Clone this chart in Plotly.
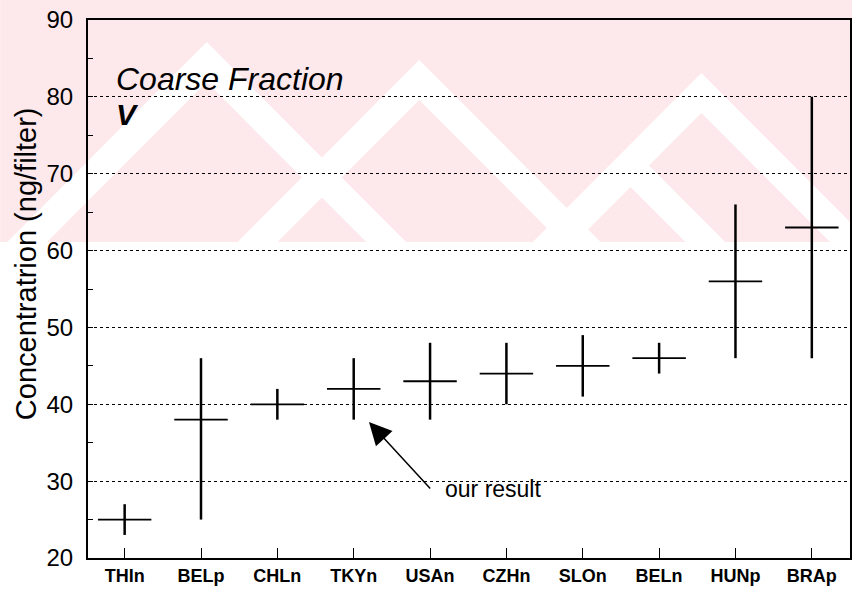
import plotly.graph_objects as go

categories = ["THIn", "BELp", "CHLn", "TKYn", "USAn", "CZHn", "SLOn", "BELn", "HUNp", "BRAp"]
mean_vals = [25, 38, 40, 42, 43, 44, 45, 46, 56, 63]
low_vals = [23, 25, 38, 38, 38, 40, 41, 44, 46, 46]
high_vals = [27, 46, 42, 46, 48, 48, 49, 48, 66, 80]
y_ticks = [20, 30, 40, 50, 60, 70, 80, 90]

idx = list(range(len(categories)))
err_plus = [h - m for h, m in zip(high_vals, mean_vals)]
err_minus = [m - l for m, l in zip(mean_vals, low_vals)]

FONT = "Liberation Sans, Arial, sans-serif"
W, H = 854, 596
ML, MR, MT, MB = 88, 2, 20, 38
PW, PH = W - ML - MR, H - MT - MB


def px(x, y):
    return (x - ML) / PW, 1 - (y - MT) / PH


def path(points):
    pts = [px(x, y) for x, y in points]
    return "M " + " L ".join(f"{a:.4f},{b:.4f}" for a, b in pts) + " Z"


# faint background watermark (decoration)
WM_BOTTOM = 242
band = 40
wm_shapes = [dict(type="path", path=path([(0, 0), (W, 0), (W, WM_BOTTOM), (0, WM_BOTTOM)]),
                  xref="paper", yref="paper", layer="below",
                  fillcolor="#fde8eb", line=dict(width=0))]
for ax_, ay_ in [(207, 42), (703, 73), (632, 147), (420, 60)]:
    d = WM_BOTTOM - ay_
    pts = [(ax_ - d, WM_BOTTOM), (ax_, ay_), (ax_ + d, WM_BOTTOM),
           (ax_ + d - band, WM_BOTTOM), (ax_, ay_ + band), (ax_ - d + band, WM_BOTTOM)]
    wm_shapes.append(dict(type="path", path=path(pts), xref="paper", yref="paper",
                          layer="below", fillcolor="white", line=dict(width=0)))

fig = go.Figure()
fig.add_trace(go.Scatter(
    x=idx, y=mean_vals, mode="markers",
    marker=dict(size=1, color="rgba(0,0,0,0)"),
    error_y=dict(type="data", symmetric=False, array=err_plus, arrayminus=err_minus,
                 width=0, thickness=2.5, color="black"),
    error_x=dict(type="constant", value=0.35, width=0, thickness=1.8, color="black"),
    showlegend=False, hoverinfo="skip",
))

fig.update_layout(
    width=W, height=H,
    margin=dict(l=ML, r=MR, t=MT, b=MB),
    paper_bgcolor="white", plot_bgcolor="rgba(0,0,0,0)",
    font=dict(family=FONT, color="black"),
    xaxis=dict(
        range=[-0.48, 9.5], tickmode="array", tickvals=idx, ticktext=categories,
        ticks="inside", ticklen=10, tickwidth=1.2, tickcolor="black",
        showline=True, linewidth=2, linecolor="black", mirror=True,
        showgrid=False, zeroline=False,
        tickfont=dict(family=FONT, size=18, color="black", weight="bold"),
    ),
    yaxis=dict(
        range=[20, 90], tickmode="array", tickvals=y_ticks,
        ticks="inside", ticklen=5, tickwidth=1.2, tickcolor="black",
        showline=True, linewidth=2, linecolor="black", mirror=True,
        showgrid=True, gridcolor="black", gridwidth=1, griddash="dot",
        zeroline=False, ticklabelstandoff=8,
        tickfont=dict(family=FONT, size=24, color="black"),
        minor=dict(tickvals=[25, 35, 45, 55, 65, 75, 85], ticks="inside", ticklen=5,
                   tickcolor="black", tickwidth=1.2, showgrid=False),
    ),
    annotations=[
        dict(text="Concentratrion (ng/filter)", xref="paper", yref="paper",
             x=px(26, 0)[0], y=px(0, 264)[1], textangle=-90, showarrow=False,
             font=dict(family=FONT, size=29, color="black"),
             xanchor="center", yanchor="middle"),
        dict(text="<i>Coarse Fraction</i>", xref="paper", yref="paper",
             x=px(114, 0)[0], y=px(0, 79)[1], showarrow=False, xanchor="left", yanchor="middle",
             font=dict(family=FONT, size=32, color="black")),
        dict(text="<i><b>V</b></i>", xref="paper", yref="paper",
             x=px(114, 0)[0], y=px(0, 114)[1], showarrow=False, xanchor="left", yanchor="middle",
             font=dict(family=FONT, size=30, color="black")),
        dict(text="", x=3.2, y=37.7, ax=4.02, ay=28.85, xref="x", yref="y",
             axref="x", ayref="y", showarrow=True, arrowhead=2, arrowsize=3,
             arrowwidth=1.5, arrowcolor="black"),
        dict(text="our result", x=4.17, y=29.0, xref="x", yref="y", showarrow=False,
             xanchor="left", yanchor="middle",
             font=dict(family=FONT, size=23, color="black")),
    ],
    shapes=wm_shapes,
)

fig.write_html("out.html")
